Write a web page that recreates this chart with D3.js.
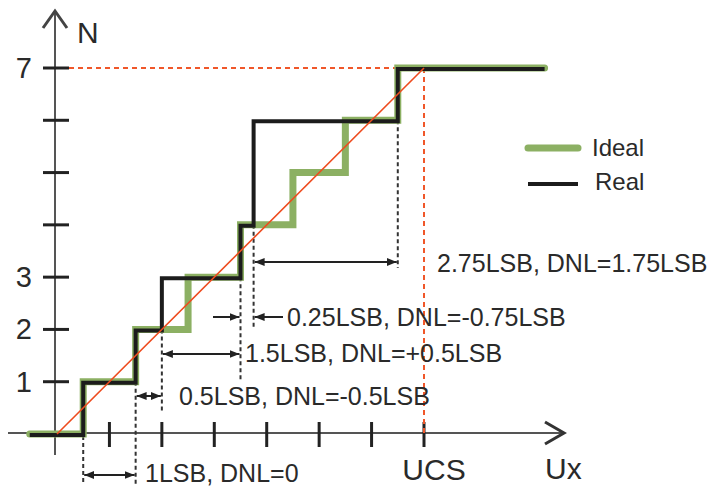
<!DOCTYPE html>
<html>
<head>
<meta charset="utf-8">
<script src="https://cdn.jsdelivr.net/npm/d3@7"></script>
<style>
  body { margin: 0; background: #fff; }
  text { font-family: "Liberation Sans", Arial, sans-serif; fill: #2a2a2a; }
</style>
</head>
<body>
<div id="chart"></div>
<script>
// code thresholds in LSB, and the code reached after each one
var idealEdges = [0.5, 1.5, 2.5, 3.5, 4.5, 5.5, 6.5];
var idealCodes = [1, 2, 3, 4, 5, 6, 7];
var realEdges = [0.5, 1.5, 2, 3.5, 3.75, 6.5];
var realCodes = [1, 2, 3, 4, 6, 7];
var xStart = -0.52, xEnd = 9.3;

var xTicks = [1, 2, 3, 4, 5, 6, 7];
var yTicks = [1, 2, 3, 4, 5, 6, 7];
var yLabels = [1, 2, 3, 7];

// code widths measured between neighbouring real thresholds
var spanFrom = [0.5, 1.5, 2, 3.5, 3.75];
var spanTo = [1.5, 2, 3.5, 3.75, 6.5];
var spanText = ['1LSB, DNL=0', '0.5LSB, DNL=-0.5LSB', '1.5LSB, DNL=+0.5LSB',
                '0.25LSB, DNL=-0.75LSB', '2.75LSB, DNL=1.75LSB'];

var width = 713, height = 488;
var x = d3.scaleLinear().domain([0, 7]).range([57, 424]);
var y = d3.scaleLinear().domain([0, 7]).range([434, 68]);

var svg = d3.select('#chart').append('svg')
  .attr('width', width)
  .attr('height', height);

var defs = svg.append('defs');
defs.append('marker')
  .attr('id', 'head')
  .attr('viewBox', '0 0 10 8')
  .attr('refX', 10).attr('refY', 4)
  .attr('markerWidth', 10).attr('markerHeight', 8)
  .attr('markerUnits', 'userSpaceOnUse')
  .attr('orient', 'auto-start-reverse')
  .append('path').attr('d', 'M0,0L10,4L0,8Z').attr('fill', '#222');

function steps(edges, codes) {
  var pts = [[xStart, 0]];
  var level = 0;
  edges.forEach(function (e, i) {
    pts.push([e, level]);
    level = codes[i];
    pts.push([e, level]);
  });
  pts.push([xEnd, level]);
  return pts;
}
var line = d3.line().x(function (d) { return x(d[0]); }).y(function (d) { return y(d[1]); });

// axes
var axisColor = '#555';
svg.append('line').attr('x1', 8).attr('x2', 564).attr('y1', y(0) - 1).attr('y2', y(0) - 1)
  .attr('stroke', axisColor).attr('stroke-width', 2);
svg.append('path').attr('d', 'M545,' + (y(0) - 12) + 'L564,' + (y(0) - 1) + 'L545,' + (y(0) + 10))
  .attr('fill', 'none').attr('stroke', '#333').attr('stroke-width', 3);
svg.append('line').attr('x1', x(0) - 2).attr('x2', x(0) - 2).attr('y1', 455).attr('y2', 11)
  .attr('stroke', axisColor).attr('stroke-width', 2);
svg.append('path').attr('d', 'M' + (x(0) - 14) + ',28L' + (x(0) - 2) + ',11L' + (x(0) + 10) + ',28')
  .attr('fill', 'none').attr('stroke', '#444').attr('stroke-width', 3);

svg.selectAll('.xt').data(xTicks).enter().append('line')
  .attr('x1', function (d) { return x(d); }).attr('x2', function (d) { return x(d); })
  .attr('y1', y(0) - 12).attr('y2', y(0) + 13)
  .attr('stroke', '#222').attr('stroke-width', 3);
svg.selectAll('.yt').data(yTicks).enter().append('line')
  .attr('x1', 43).attr('x2', 69)
  .attr('y1', function (d) { return y(d); }).attr('y2', function (d) { return y(d); })
  .attr('stroke', '#222').attr('stroke-width', 3);

svg.selectAll('.yl').data(yLabels).enter().append('text')
  .attr('x', 32).attr('y', function (d) { return y(d) + 10; })
  .attr('text-anchor', 'end').attr('font-size', 29)
  .text(function (d) { return d; });
svg.append('text').attr('x', 77).attr('y', 43).attr('font-size', 30).text('N');
svg.append('text').attr('x', 434).attr('y', 480).attr('text-anchor', 'middle').attr('font-size', 30).text('UCS');
svg.append('text').attr('x', 545).attr('y', 479).attr('font-size', 30).text('Ux');

// red guides: full scale
var red = '#f0572a';
svg.append('line').attr('x1', 69).attr('x2', x(7)).attr('y1', y(7)).attr('y2', y(7))
  .attr('stroke', red).attr('stroke-width', 2).attr('stroke-dasharray', '5,4');
svg.append('line').attr('x1', x(7)).attr('x2', x(7)).attr('y1', y(7)).attr('y2', y(0))
  .attr('stroke', red).attr('stroke-width', 2).attr('stroke-dasharray', '5,4');

// dotted drop lines from each real threshold
var dropEnd = [485, 485, 412, 382, 328, 268];
realEdges.forEach(function (e, i) {
  var top = i === 0 ? y(0) + 2 : y(realCodes[i - 1]);
  svg.append('line').attr('x1', x(e)).attr('x2', x(e)).attr('y1', top).attr('y2', dropEnd[i])
    .attr('stroke', '#333').attr('stroke-width', 2).attr('stroke-dasharray', '4,3');
});

// staircases
svg.append('path').datum(steps(idealEdges, idealCodes)).attr('d', line)
  .attr('fill', 'none').attr('stroke', '#8cb063').attr('stroke-width', 7)
  .attr('stroke-linecap', 'round');
svg.append('path').datum(steps(realEdges, realCodes)).attr('d', line)
  .attr('fill', 'none').attr('stroke', '#1c1c1c').attr('stroke-width', 4)
  .attr('stroke-linecap', 'butt').attr('transform', 'translate(0,1)');
svg.append('line').attr('x1', x(0)).attr('y1', y(0)).attr('x2', x(7)).attr('y2', y(7))
  .attr('stroke', '#ee4b1e').attr('stroke-width', 1.6);

// width annotations
var arrowY = [475, 396, 354, 317, 262];
var textX = [145, 179, 245, 287, 437];
var textY = [482, 405, 362, 326, 272];
spanText.forEach(function (t, i) {
  if (i === 3) {
    svg.append('line').attr('x1', 213).attr('x2', x(spanFrom[i]) - 1).attr('y1', arrowY[i]).attr('y2', arrowY[i])
      .attr('stroke', '#222').attr('stroke-width', 2).attr('marker-end', 'url(#head)');
    svg.append('line').attr('x1', 283).attr('x2', x(spanTo[i]) + 1).attr('y1', arrowY[i]).attr('y2', arrowY[i])
      .attr('stroke', '#222').attr('stroke-width', 2).attr('marker-end', 'url(#head)');
  } else {
    svg.append('line').attr('x1', x(spanFrom[i]) + 1).attr('x2', x(spanTo[i]) - 1)
      .attr('y1', arrowY[i]).attr('y2', arrowY[i])
      .attr('stroke', '#222').attr('stroke-width', 2)
      .attr('marker-start', 'url(#head)').attr('marker-end', 'url(#head)');
  }
  svg.append('text').attr('x', textX[i]).attr('y', textY[i]).attr('font-size', 25).text(t);
});

// legend
svg.append('line').attr('x1', 528).attr('x2', 578).attr('y1', 148).attr('y2', 148)
  .attr('stroke', '#8cb063').attr('stroke-width', 7).attr('stroke-linecap', 'round');
svg.append('text').attr('x', 592).attr('y', 156).attr('font-size', 24).text('Ideal');
svg.append('line').attr('x1', 528).attr('x2', 578).attr('y1', 184).attr('y2', 184)
  .attr('stroke', '#1c1c1c').attr('stroke-width', 4);
svg.append('text').attr('x', 595).attr('y', 190).attr('font-size', 24).text('Real');
</script>
</body>
</html>
